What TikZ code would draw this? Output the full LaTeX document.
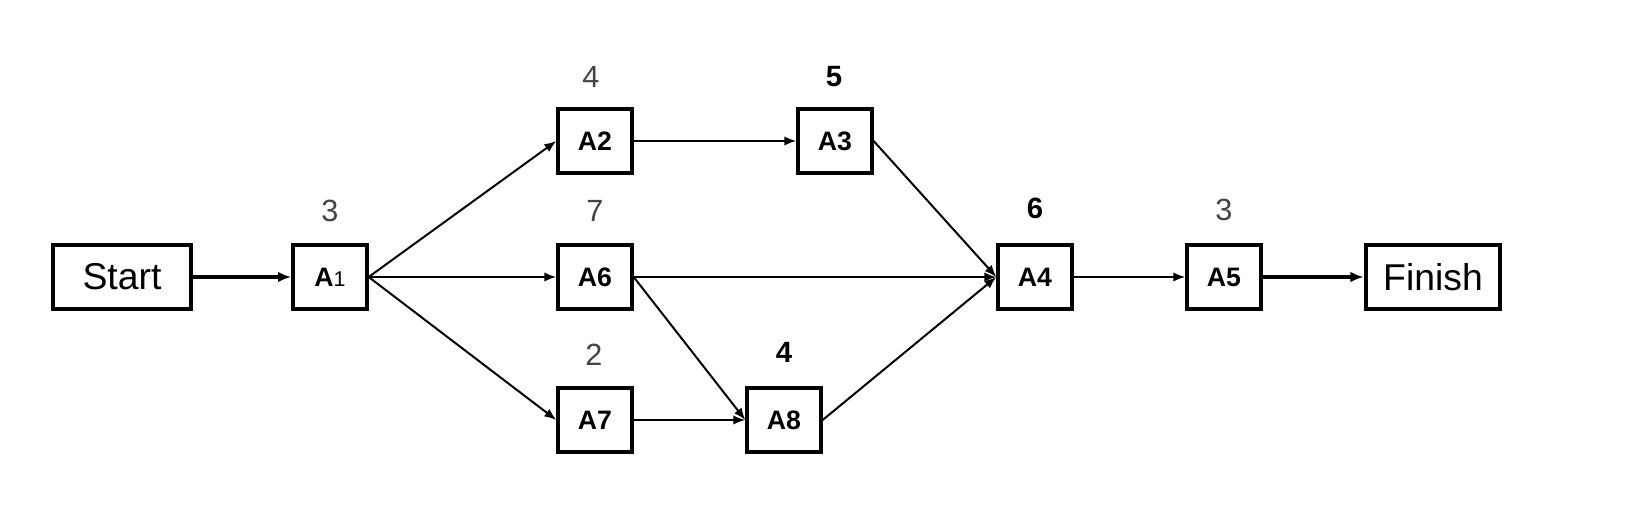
\documentclass[tikz,border=0pt]{standalone}
\usepackage{fontspec}
\setmainfont{Liberation Sans}
\usetikzlibrary{arrows.meta}
\definecolor{numgray}{HTML}{444444}
\begin{document}
\begin{tikzpicture}[x=0.75pt,y=-0.75pt,
  box/.style={draw=black,line width=3pt,minimum width=55pt,minimum height=48pt,inner sep=0pt,font=\fontsize{20}{22}\selectfont\bfseries},
  endbox/.style={box,minimum width=103pt,font=\fontsize{28}{30}\selectfont},
  num/.style={font=\fontsize{23}{25}\selectfont,text=numgray,inner sep=0pt},
  bnum/.style={font=\fontsize{22}{25}\selectfont\bfseries,text=black,inner sep=0pt},
  arr/.style={line width=1.5pt,-{Latex[length=9pt,width=7pt]}},
  tarr/.style={line width=3pt,-{Latex[length=10pt,width=8pt]}}]
\fill[white] (0,0) rectangle (1632,523);
\useasboundingbox (0,0) rectangle (1632,523);
\node[endbox] (start) at (122,277) {\mdseries Start};
\node[endbox,minimum width=101pt] (finish) at (1433,277) {\mdseries Finish};
\node[box] (a1) at (330,277) {A\mdseries\fontsize{16}{18}\selectfont 1};
\node[box] (a2) at (595,141) {A2};
\node[box] (a3) at (835,141) {A3};
\node[box] (a6) at (595,277) {A6};
\node[box] (a7) at (595,420) {A7};
\node[box] (a8) at (784,420) {A8};
\node[box] (a4) at (1035,277) {A4};
\node[box] (a5) at (1224,277) {A5};
\node[num] (n1) at (330,211) {3};
\node[num] (n2) at (591,77) {4};
\node[bnum] (n3) at (834,77) {5};
\node[num] (n6) at (595,211) {7};
\node[num] (n7) at (594,355) {2};
\node[bnum] (n8) at (784,352) {4};
\node[bnum] (n4) at (1035,208) {6};
\node[num] (n5) at (1224,210) {3};
\draw[tarr] (start) -- (a1);
\draw[arr] (a1.east) -- (a2.west);
\draw[arr] (a1.east) -- (a6.west);
\draw[arr] (a1.east) -- (a7.west);
\draw[arr] (a2) -- (a3);
\draw[arr] (a3.east) -- (a4.west);
\draw[arr] (a6.east) -- (a4.west);
\draw[arr] (a6.east) -- (a8.west);
\draw[arr] (a7) -- (a8);
\draw[arr] (a8.east) -- (a4.west);
\draw[arr] (a4) -- (a5);
\draw[tarr] (a5) -- (finish);
\end{tikzpicture}
\end{document}
